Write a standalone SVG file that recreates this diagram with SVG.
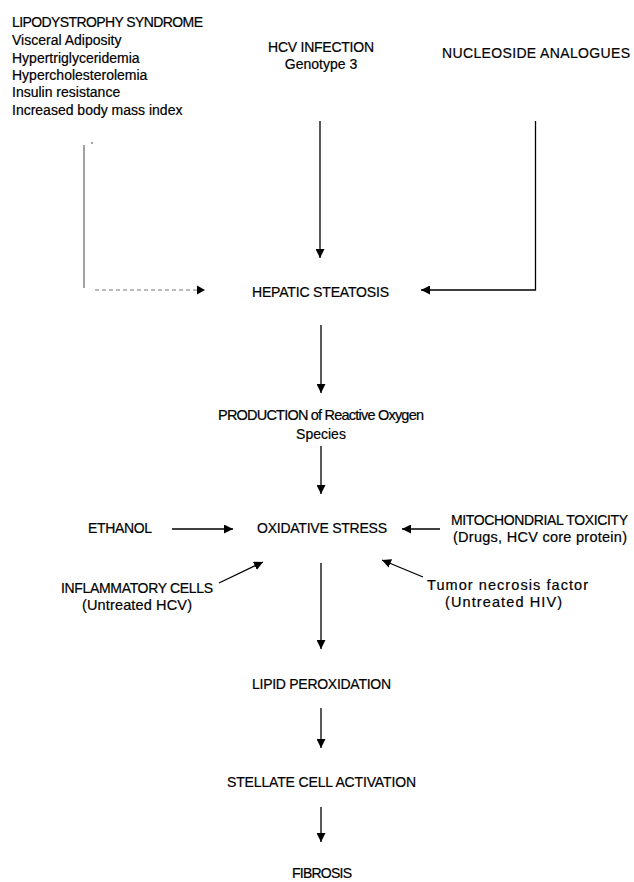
<svg xmlns="http://www.w3.org/2000/svg" width="634" height="882" viewBox="0 0 634 882">
<defs>
<style>
text{font-family:"Liberation Sans",Arial,sans-serif;font-size:14px;fill:#000;stroke:#000;stroke-width:0.2}
.m{font-size:14.5px}
.c{text-anchor:middle}
.ln{stroke:#000;stroke-width:1.3;fill:none}
.dot{stroke:#777;stroke-width:1;fill:none;stroke-dasharray:4 3}
.thin{stroke:#444;stroke-width:1;fill:none}
</style>
<marker id="ah" viewBox="0 0 10 10" refX="10" refY="5" markerWidth="9" markerHeight="9" markerUnits="userSpaceOnUse" orient="auto">
<path d="M0,0 L10,5 L0,10 Z" fill="#000"/>
</marker>
</defs>
<rect width="634" height="882" fill="#fff"/>
<g id="lipodystrophy">
<text x="12" y="27" textLength="191">LIPODYSTROPHY SYNDROME</text>
<text x="12" y="45">Visceral Adiposity</text>
<text x="12" y="63">Hypertriglyceridemia</text>
<text x="12" y="80">Hypercholesterolemia</text>
<text x="12" y="97">Insulin resistance</text>
<text x="12" y="115">Increased body mass index</text>
</g>
<g id="hcv">
<text x="268" y="52" textLength="106">HCV INFECTION</text>
<text x="321" y="69" class="c">Genotype 3</text>
</g>
<g id="nucleoside">
<text x="442" y="58" textLength="188">NUCLEOSIDE ANALOGUES</text>
</g>
<g id="steatosis">
<text x="252" y="297" textLength="137">HEPATIC STEATOSIS</text>
</g>
<g id="ros">
<text x="218" y="420" class="m" textLength="206">PRODUCTION of Reactive Oxygen</text>
<text x="321" y="439" class="c">Species</text>
</g>
<g id="ethanol">
<text x="88" y="533" textLength="64">ETHANOL</text>
</g>
<g id="oxidative">
<text x="257" y="533" textLength="130">OXIDATIVE STRESS</text>
</g>
<g id="mito">
<text x="451" y="525" textLength="177">MITOCHONDRIAL TOXICITY</text>
<text x="453" y="542" class="m" textLength="174">(Drugs, HCV core protein)</text>
</g>
<g id="inflammatory">
<text x="61" y="593" textLength="152">INFLAMMATORY CELLS</text>
<text x="82" y="610" class="m" textLength="110">(Untreated HCV)</text>
</g>
<g id="tnf">
<text x="427" y="590" class="m" textLength="161">Tumor necrosis factor</text>
<text x="445" y="607" class="m" textLength="117">(Untreated HIV)</text>
</g>
<g id="lipid">
<text x="252" y="689" textLength="139">LIPID PEROXIDATION</text>
</g>
<g id="stellate">
<text x="227" y="787" textLength="189">STELLATE CELL ACTIVATION</text>
</g>
<g id="fibrosis">
<text x="292" y="878" textLength="60">FIBROSIS</text>
</g>
<g id="connectors">
<path class="thin" d="M84,145 V288"/>
<path class="thin" d="M92,142 V144"/>
<path class="dot" d="M95,290 H197"/>
<path d="M197,285.5 L205,290 L197,294.5 Z" fill="#000"/>
<path class="ln" d="M320,121 V258" marker-end="url(#ah)"/>
<path class="ln" d="M535.5,121 V290 H421" marker-end="url(#ah)"/>
<path class="ln" d="M321,325 V393" marker-end="url(#ah)"/>
<path class="ln" d="M321,446 V494" marker-end="url(#ah)"/>
<path class="ln" d="M172,529 H233" marker-end="url(#ah)"/>
<path class="ln" d="M440,529 H402" marker-end="url(#ah)"/>
<path class="ln" d="M219,583 L263,562" marker-end="url(#ah)"/>
<path class="ln" d="M423,577 L382,560" marker-end="url(#ah)"/>
<path class="ln" d="M321,563 V649" marker-end="url(#ah)"/>
<path class="ln" d="M321,708 V748" marker-end="url(#ah)"/>
<path class="ln" d="M321,807 V842" marker-end="url(#ah)"/>
</g>
</svg>
